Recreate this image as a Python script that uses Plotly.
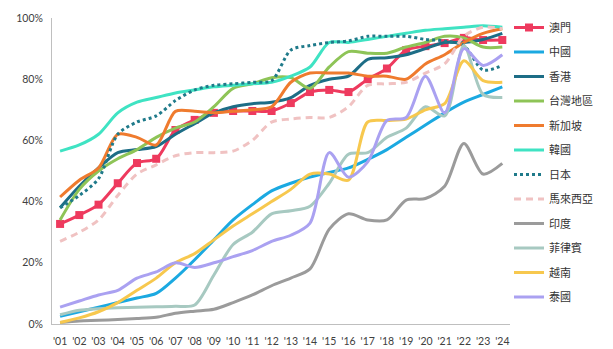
import plotly.graph_objects as go

years = ["'01", "'02", "'03", "'04", "'05", "'06", "'07", "'08", "'09", "'10", "'11", "'12",
         "'13", "'14", "'15", "'16", "'17", "'18", "'19", "'20", "'21", "'22", "'23", "'24"]

macau = [32.7, 35.6, 39, 46, 52.6, 54, 63.4, 66.7, 69, 69.6, 69.6, 69.6,
         72.2, 75.8, 76.5, 75.8, 80, 83.5, 89.5, 90.8, 91.8, 93.5, 92.8, 92.8]
china = [2.5, 4, 5.5, 7, 8.5, 10, 15, 21, 27.5, 34, 39, 43.5,
         46, 48, 49.5, 51, 53.8, 57, 61, 65, 69, 72.5, 75, 77.5]
hongkong = [38, 45, 51, 56, 57, 58, 62, 65.5, 69, 71, 72, 72.5,
            74, 78, 80, 81, 86.5, 87, 88, 90, 92, 92, 93, 95]
taiwan = [34, 44, 50, 54, 57, 61, 64, 66, 71, 77, 78.5, 80.5,
          80.5, 77, 84, 89, 88.5, 88.5, 90.5, 92, 94, 93.5, 90.5, 90.5]
singapore = [41.5, 47, 51, 62, 61, 58.5, 69.5, 69.5, 69, 69.5, 70, 71,
             79, 82, 82, 82, 81, 81, 80, 85, 88, 92, 95, 96.5]
korea = [56.5, 58.5, 62, 69, 72.5, 74, 75.5, 76.5, 77.5, 78, 78.5, 79,
         81, 84, 92, 92, 93, 94, 95, 96, 96.5, 97, 97.5, 97]
japan = [38, 42, 47.5, 62, 66, 68, 73, 76.5, 78, 78.5, 79, 79.5,
         89.5, 91, 92, 92.5, 94, 94, 94, 93, 92.5, 91, 83, 84.5]
malaysia = [27, 30, 34, 42, 49, 52, 55, 56, 56, 56.5, 60, 66,
            67, 67.5, 67.5, 71, 78, 78.5, 79, 82, 85, 94, 97, 96.5]
india = [0.5, 1, 1.2, 1.5, 1.8, 2.2, 3.5, 4.2, 4.8, 7, 9.5, 12.5,
         15, 18, 31, 36, 34, 34, 40.5, 41, 45, 59, 49, 52.5]
philippines = [3, 4.5, 5, 5.3, 5.5, 5.6, 5.8, 6.2, 16, 26, 30, 36,
               37, 38.5, 46, 55.5, 56, 61, 64, 71, 68, 91, 75, 74]
vietnam = [0.5, 2, 4, 7, 11, 15, 20, 23, 27.5, 32, 36, 40,
           44, 49, 49, 47, 66, 66.5, 67, 70, 72, 86, 79.5, 79]
thailand = [5.5, 7.5, 9.5, 11, 15, 17, 20, 18.5, 20, 22, 24, 27,
            29, 33, 56, 48, 53, 66.5, 67.5, 81, 69, 90, 84.5, 88]

series = [
    ("澳門", macau, "#ee3a5e", "solid"),
    ("中國", china, "#1ba9e1", "solid"),
    ("香港", hongkong, "#1d6d86", "solid"),
    ("台灣地區", taiwan, "#8ec457", "solid"),
    ("新加坡", singapore, "#ef7b2e", "solid"),
    ("韓國", korea, "#3fe3c3", "solid"),
    ("日本", japan, "#1f7a8a", "dot"),
    ("馬來西亞", malaysia, "#f0c2c2", "7px,5px"),
    ("印度", india, "#9b9b9b", "solid"),
    ("菲律賓", philippines, "#a7c9c1", "solid"),
    ("越南", vietnam, "#f7c84e", "solid"),
    ("泰國", thailand, "#aaa1f1", "solid"),
]

x = list(range(len(years)))

fig = go.Figure()
for name, vals, color, dash in series:
    is_macau = name == "澳門"
    fig.add_trace(go.Scatter(
        x=x, y=vals, name=name, legendgroup=name,
        mode="lines+markers" if is_macau else "lines",
        line=dict(color=color, width=3, dash=dash, shape="spline", smoothing=0.8),
        marker=dict(symbol="square", size=8, color=color) if is_macau else None,
    ))

fig.update_layout(
    width=613, height=349,
    margin=dict(l=52, r=103, t=18, b=25, autoexpand=False),
    paper_bgcolor="white", plot_bgcolor="white",
    font=dict(family="Lato, 'Noto Sans CJK TC', sans-serif", size=11, color="#404040"),
    showlegend=True,
    legend=dict(
        xref="container", yref="container",
        x=509 / 613, y=1 - 13 / 349, xanchor="left", yanchor="top",
        font=dict(family="'Noto Sans CJK TC', sans-serif", size=11, color="#333333"),
        tracegroupgap=5.5, itemwidth=30, bgcolor="rgba(0,0,0,0)",
        maxheight=335,
    ),
    xaxis=dict(
        range=[-0.42, 23.4], tickmode="array", tickvals=x, ticktext=years,
        showgrid=False, zeroline=False, showline=True, linecolor="#bfbfbf", linewidth=1,
        ticks="", tickangle=0, tickfont=dict(size=10.5, color="#404040"),
        ticklabelstandoff=7,
    ),
    yaxis=dict(
        range=[0, 100], tickvals=[0, 20, 40, 60, 80, 100],
        ticktext=["0%", "20%", "40%", "60%", "80%", "100%"],
        showgrid=False, zeroline=False, showline=True, linecolor="#bfbfbf", linewidth=1,
        ticks="", tickfont=dict(size=10.5, color="#404040"), ticklabelstandoff=6,
    ),
)

fig.write_html("out.html")
